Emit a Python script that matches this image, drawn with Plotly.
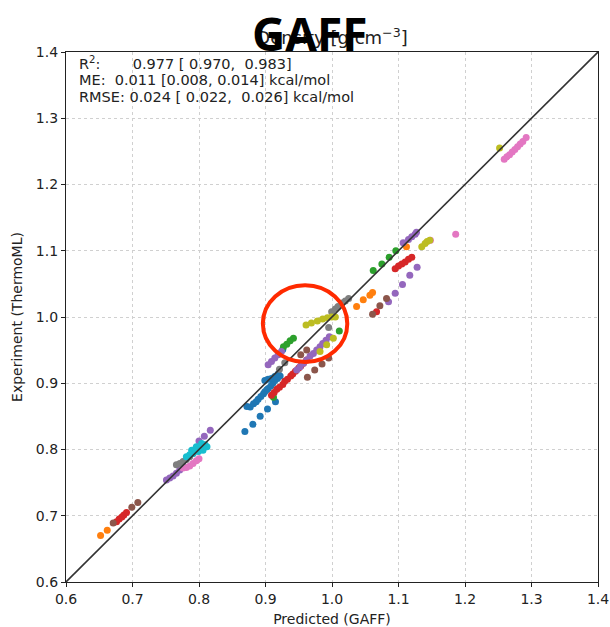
import plotly.graph_objects as go

# ---- data ----
blue_x = [0.869, 0.881, 0.892, 0.903, 0.915, 0.872, 0.877, 0.882, 0.886, 0.889, 0.893, 0.897, 0.899, 0.902,
          0.904, 0.908, 0.911, 0.914, 0.918, 0.922, 0.899, 0.904, 0.909, 0.914, 0.919, 0.926]
blue_y = [0.827, 0.838, 0.850, 0.861, 0.872, 0.865, 0.864, 0.869, 0.872, 0.876, 0.880, 0.884, 0.887, 0.890,
          0.892, 0.896, 0.900, 0.904, 0.907, 0.911, 0.904, 0.906, 0.907, 0.910, 0.914, 0.951]

orange_x = [0.652, 0.662, 1.037, 1.047, 1.057, 1.061, 1.112]
orange_y = [0.670, 0.678, 1.016, 1.026, 1.033, 1.037, 1.106]

green_x = [0.912, 0.927, 0.932, 0.937, 0.942, 1.011, 1.062, 1.075, 1.086, 1.096]
green_y = [0.879, 0.955, 0.959, 0.964, 0.968, 0.979, 1.070, 1.080, 1.090, 1.100]

red_x = [0.676, 0.680, 0.684, 0.687, 0.691,
         0.909, 0.913, 0.917, 0.921, 0.926, 0.929, 0.933, 0.938, 0.941, 0.945, 0.950, 0.953, 0.957, 0.962,
         1.067, 1.095, 1.100, 1.105, 1.110, 1.115, 1.120]
red_y = [0.691, 0.695, 0.698, 0.701, 0.705,
         0.882, 0.886, 0.891, 0.894, 0.898, 0.903, 0.906, 0.911, 0.914, 0.918, 0.923, 0.926, 0.930, 0.935,
         1.008, 1.073, 1.077, 1.080, 1.083, 1.087, 1.090]

purple_x = [0.751, 0.756, 0.761, 0.766, 0.771, 0.800, 0.808, 0.817,
            0.904, 0.909, 0.914, 0.919, 0.924,
            0.947, 0.952, 0.957, 0.962, 0.967, 0.972, 0.977, 0.982, 0.986, 0.991, 0.996,
            1.085, 1.095, 1.106, 1.117, 1.128,
            1.107, 1.115, 1.120, 1.125, 1.127]
purple_y = [0.754, 0.757, 0.760, 0.764, 0.769, 0.813, 0.820, 0.829,
            0.928, 0.933, 0.938, 0.943, 0.948,
            0.920, 0.925, 0.930, 0.935, 0.941, 0.945, 0.950, 0.955, 0.960, 0.965, 0.970,
            1.023, 1.036, 1.049, 1.063, 1.075,
            1.112, 1.117, 1.121, 1.125, 1.128]

brown_x = [0.671, 0.699, 0.708, 0.953, 0.962, 0.963, 0.974, 0.985, 0.995, 1.061, 1.072, 1.082]
brown_y = [0.689, 0.713, 0.720, 0.943, 0.950, 0.909, 0.920, 0.929, 0.938, 1.004, 1.017, 1.028]

pink_x = [0.776, 0.781, 0.786, 0.791, 0.796, 0.800, 1.148, 1.186,
          1.259, 1.263, 1.267, 1.271, 1.275, 1.279, 1.283, 1.287, 1.292]
pink_y = [0.772, 0.773, 0.775, 0.779, 0.783, 0.786, 1.116, 1.125,
          1.238, 1.242, 1.245, 1.249, 1.253, 1.257, 1.261, 1.265, 1.271]

gray_x = [0.766, 0.771, 0.776, 0.781, 0.786, 0.791, 0.921, 0.929, 0.995,
          0.9995, 1.005, 1.009, 1.015, 1.020, 1.025]
gray_y = [0.777, 0.779, 0.782, 0.785, 0.789, 0.794, 0.921, 0.931, 0.984,
          1.008, 1.012, 1.016, 1.021, 1.024, 1.028]

olive_x = [0.961, 0.969, 0.978, 0.986, 0.993, 0.9995, 1.005, 0.982, 0.992, 1.002,
           1.135, 1.140, 1.143, 1.147, 1.252]
olive_y = [0.988, 0.991, 0.994, 0.997, 0.999, 1.000, 1.000, 0.948, 0.958, 0.968,
           1.106, 1.111, 1.114, 1.116, 1.255]

cyan_x = [0.812, 0.804, 0.806, 0.799, 0.791, 0.786, 0.781, 0.789, 0.796, 0.801, 0.809, 0.794]
cyan_y = [0.804, 0.809, 0.799, 0.797, 0.794, 0.792, 0.789, 0.799, 0.804, 0.802, 0.807, 0.800]

series = [
    (blue_x, blue_y, "#1f77b4"),
    (orange_x, orange_y, "#ff7f0e"),
    (green_x, green_y, "#2ca02c"),
    (red_x, red_y, "#d62728"),
    (purple_x, purple_y, "#9467bd"),
    (brown_x, brown_y, "#8c564b"),
    (pink_x, pink_y, "#e377c2"),
    (gray_x, gray_y, "#7f7f7f"),
    (olive_x, olive_y, "#bcbd22"),
    (cyan_x, cyan_y, "#17becf"),
]

axis_range = [0.6, 1.4]
tick_vals = [0.6, 0.7, 0.8, 0.9, 1.0, 1.1, 1.2, 1.3, 1.4]
stats_lines = [
    "R<sup>2</sup>:\u00a0\u00a0\u00a0\u00a0\u00a0\u00a0\u00a00.977 [ 0.970,\u00a0 0.983]",
    "ME:\u00a0 0.011 [0.008, 0.014] kcal/mol",
    "RMSE: 0.024 [ 0.022,\u00a0 0.026] kcal/mol",
]
circle_x = [0.896, 1.023]
circle_y = [0.932, 1.048]

W, H = 610, 627
ML, MR, MT, MB = 66, 12, 52, 45
PW, PH = W - ML - MR, H - MT - MB

fig = go.Figure()
for xs, ys, c in series:
    fig.add_trace(go.Scatter(x=xs, y=ys, mode="markers",
                             marker=dict(color=c, size=7, line=dict(width=0)),
                             showlegend=False, hoverinfo="skip"))

fig.add_trace(go.Scatter(x=axis_range, y=axis_range, mode="lines",
                         line=dict(color="#333333", width=1.6),
                         showlegend=False, hoverinfo="skip"))

font_main = "DejaVu Sans, Verdana, sans-serif"
axis_common = dict(range=axis_range, tickvals=tick_vals, tickformat=".1f", automargin=False,
                   showline=True, linecolor="#222222", linewidth=1.2, mirror=True,
                   ticks="outside", ticklen=4, tickcolor="#222222",
                   showgrid=True, gridcolor="#d0d0d0", griddash="dot", gridwidth=1,
                   zeroline=False, tickfont=dict(family=font_main, size=14, color="#222222"))

def px_x(px):
    return (px - ML) / PW

def px_y(py):
    return (H - MB - py) / PH

annotations = []
for i, line in enumerate(stats_lines):
    annotations.append(dict(text=line, xref="paper", yref="paper",
                            x=px_x(77), y=px_y(63 + 17 * i), xanchor="left", yanchor="middle",
                            align="left", showarrow=False,
                            font=dict(family=font_main, size=14.5, color="#222222")))
annotations.append(dict(text="<b>GAFF</b>", xref="paper", yref="paper", x=px_x(310), y=px_y(33),
                        xanchor="center", yanchor="middle", showarrow=False,
                        font=dict(family="Open Sans, sans-serif", size=46, color="black")))

fig.update_layout(
    width=W, height=H,
    margin=dict(l=ML, r=MR, t=MT, b=MB, autoexpand=False),
    paper_bgcolor="white", plot_bgcolor="white",
    title=dict(text="Density [g cm<sup>\u22123</sup>]", x=px_x(332), xref="paper", xanchor="center",
               y=1 - 38 / H, yanchor="middle", yref="container",
               font=dict(family=font_main, size=18, color="#222222")),
    xaxis=dict(**axis_common,
               title=dict(text="Predicted (GAFF)", standoff=12,
                          font=dict(family=font_main, size=14, color="#222222"))),
    yaxis=dict(**axis_common,
               title=dict(text="Experiment (ThermoML)", standoff=9,
                          font=dict(family=font_main, size=14, color="#222222"))),
    shapes=[dict(type="circle", xref="x", yref="y",
                 x0=circle_x[0], x1=circle_x[1], y0=circle_y[0], y1=circle_y[1],
                 line=dict(color="#ff2a00", width=4))],
    annotations=annotations,
)

fig.write_html("out.html")
